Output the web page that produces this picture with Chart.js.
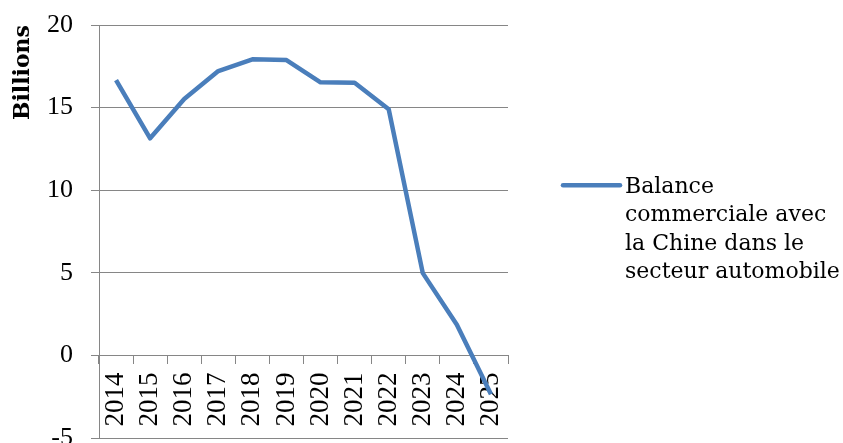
<!DOCTYPE html>
<html lang="fr">
<head>
<meta charset="utf-8">
<title>Balance commerciale - secteur automobile</title>
<script src="https://cdn.jsdelivr.net/npm/chart.js@4/dist/chart.umd.min.js"></script>
<style>
  html, body { margin: 0; padding: 0; background: #fff; }
  #wrap { width: 843px; height: 443px; position: relative; }
</style>
</head>
<body>
<div id="wrap"><canvas id="balanceChart"></canvas></div>
<script>
// Données (milliards)
const years = ['2014', '2015', '2016', '2017', '2018', '2019', '2020', '2021', '2022', '2023', '2024', '2025'];
const balance = [16.67, 13.14, 15.52, 17.21, 17.92, 17.88, 16.53, 16.5, 14.9, 4.98, 1.86, -2.35];
const yTicks = [-5, 0, 5, 10, 15, 20];
const seriesLabel = 'Balance commerciale avec la Chine dans le secteur automobile';

const lineColor = '#4a7ebb';
const axisGray = '#868686';

// Légende dessinée à droite, texte coupé sur plusieurs lignes
const wrappedLegend = {
    id: 'wrappedLegend',
    afterDraw(chart) {
        const ctx = chart.ctx;
        const area = chart.chartArea;
        const ds = chart.data.datasets[0];
        const maxWidth = 218;
        const lineHeight = 28.5;

        ctx.save();
        ctx.font = '22px "DejaVu Serif"';
        const words = ds.label.split(' ');
        const lines = [];
        let current = '';
        words.forEach(function(w) {
            const test = current ? current + ' ' + w : w;
            if (current && ctx.measureText(test).width > maxWidth) {
                lines.push(current);
                current = w;
            } else {
                current = test;
            }
        });
        if (current) lines.push(current);

        const cy = (area.top + area.bottom) / 2 - 3.5;
        const startY = cy - (lines.length - 1) * lineHeight / 2;
        const x0 = area.right + 55;

        // échantillon de la ligne
        ctx.strokeStyle = ds.borderColor;
        ctx.lineWidth = ds.borderWidth;
        ctx.lineCap = 'round';
        ctx.beginPath();
        ctx.moveTo(x0, startY);
        ctx.lineTo(x0 + 57, startY);
        ctx.stroke();

        ctx.fillStyle = '#000';
        ctx.textBaseline = 'middle';
        ctx.textAlign = 'left';
        lines.forEach(function(l, i) {
            ctx.fillText(l, x0 + 62, startY + 2 + i * lineHeight);
        });
        ctx.restore();
    }
};

const ctx = document.getElementById('balanceChart').getContext('2d');

new Chart(ctx, {
    type: 'line',
    data: {
        labels: years,
        datasets: [{
            label: seriesLabel,
            data: balance,
            borderColor: lineColor,
            backgroundColor: lineColor,
            borderWidth: 4.5,
            borderJoinStyle: 'round',
            pointRadius: 0,
            tension: 0,
            fill: false
        }]
    },
    options: {
        responsive: true,
        maintainAspectRatio: false,
        animation: false,
        layout: {
            padding: { top: 25, right: 335, bottom: 5, left: 0 }
        },
        plugins: {
            legend: { display: false },
            tooltip: { enabled: false }
        },
        scales: {
            x: {
                type: 'category',
                position: { y: 0 },
                offset: true,
                grid: {
                    offset: true,
                    drawOnChartArea: false,
                    tickLength: 8,
                    color: axisGray,
                    lineWidth: 1
                },
                border: { color: axisGray, width: 1 },
                ticks: {
                    autoSkip: false,
                    minRotation: 90,
                    maxRotation: 90,
                    padding: 9,
                    color: '#000',
                    font: { family: '"Liberation Serif"', size: 27 }
                },
                // l'axe est posé sur y = 0, il ne prend pas de place en bas
                afterFit: function(scale) {
                    scale.height = 0;
                    scale.paddingLeft = 0;
                    scale.paddingRight = 0;
                }
            },
            y: {
                min: -5,
                max: 20,
                afterBuildTicks: function(scale) {
                    scale.ticks = yTicks.map(v => ({ value: v }));
                },
                grid: {
                    color: axisGray,
                    lineWidth: 1,
                    tickLength: 8
                },
                border: { color: axisGray, width: 1 },
                ticks: {
                    padding: 18,
                    color: '#000',
                    font: { family: '"Liberation Serif"', size: 26 }
                },
                title: {
                    display: true,
                    text: 'Billions',
                    align: 'end',
                    color: '#000',
                    padding: { top: 10, bottom: 0 },
                    font: { family: '"DejaVu Serif"', size: 22, weight: 'bold' }
                },
                afterFit: function(scale) {
                    scale.width = 99;
                    scale.paddingTop = 0;
                    scale.paddingBottom = 0;
                }
            }
        }
    },
    plugins: [wrappedLegend]
});
</script>
</body>
</html>
